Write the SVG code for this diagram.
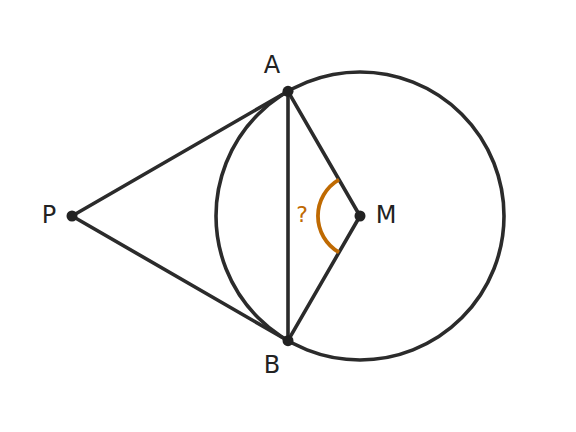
<svg xmlns="http://www.w3.org/2000/svg" width="576" height="432" viewBox="0 0 576 432">
<style>
.ln{fill:none;stroke:#2b2b2b;stroke-width:3.6;stroke-linecap:round}
.pt{fill:#222}
.lb{font-family:"DejaVu Sans",sans-serif;font-size:24px;fill:#222;text-anchor:middle;dominant-baseline:central}
.ang{fill:none;stroke:#bf6a02;stroke-width:3.8}
.q{font-family:"DejaVu Sans",sans-serif;font-size:22px;fill:#bf6a02;text-anchor:middle;dominant-baseline:central}
</style>
<rect width="576" height="432" fill="#fff"/>
<g id="circle"><circle class="ln" cx="360" cy="216" r="144"/></g>
<g id="connectors">
<line class="ln" x1="72" y1="216" x2="288" y2="91.3"/>
<line class="ln" x1="72" y1="216" x2="288" y2="340.7"/>
<line class="ln" x1="288" y1="91.3" x2="288" y2="340.7"/>
<line class="ln" x1="288" y1="91.3" x2="360" y2="216"/>
<line class="ln" x1="288" y1="340.7" x2="360" y2="216"/>
</g>
<g id="angle">
<path class="ang" d="M339 179.6 A42 42 0 0 0 339 252.4"/>
<text class="q" x="302" y="214">?</text>
</g>
<g id="A"><circle class="pt" cx="288" cy="91.3" r="5.5"/><text class="lb" x="272" y="65">A</text></g>
<g id="B"><circle class="pt" cx="288" cy="340.7" r="5.5"/><text class="lb" x="272" y="365">B</text></g>
<g id="P"><circle class="pt" cx="72" cy="216" r="5.5"/><text class="lb" x="49" y="215">P</text></g>
<g id="M"><circle class="pt" cx="360" cy="216" r="5.5"/><text class="lb" x="386" y="215">M</text></g>
</svg>
